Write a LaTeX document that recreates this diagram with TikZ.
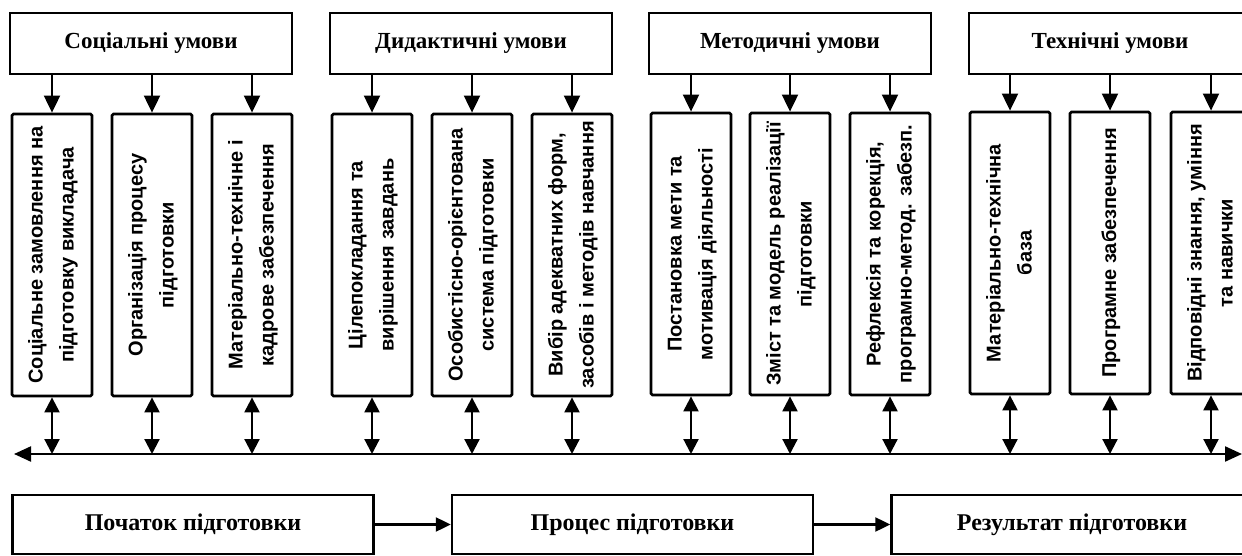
\documentclass[tikz,border=0pt]{standalone}
\usepackage{fontspec}
\usepackage{graphicx}
\setmainfont{Liberation Serif}
\setsansfont{Liberation Sans}
\usetikzlibrary{arrows.meta}
\newcommand\vtxt[2]{\rotatebox{90}{\begin{tabular}{@{}c@{}}#1\\#2\end{tabular}}}
\newcommand\vone[1]{\rotatebox{90}{\begin{tabular}{@{}c@{}}#1\end{tabular}}}
\begin{document}
\begin{tikzpicture}[x=1pt,y=-1pt,
  hdr/.style={draw, line width=2pt, minimum width=282pt, minimum height=61pt, inner sep=0pt,
    font=\fontsize{23}{27}\selectfont\bfseries},
  vbox/.style={draw, line width=2.8pt, rounded corners=1.5pt, minimum width=80pt, minimum height=282pt,
    inner sep=0pt, font=\fontsize{20}{31}\selectfont\sffamily\bfseries},
  bbox/.style={draw, line width=2.4pt, minimum width=361pt, minimum height=59pt, inner sep=0pt,
    font=\fontsize{24}{28}\selectfont\bfseries},
  arr/.style={-{Triangle[length=17pt,width=16pt]}, line width=2pt},
  harr/.style={-{Triangle[length=15pt,width=14pt]}, line width=2.2pt},
  bidir/.style={{Triangle[length=15pt,width=15pt]}-{Triangle[length=15pt,width=15pt]}, line width=2.2pt},
]
\useasboundingbox[fill=white] (0,0) rectangle (1242,556);

% headers
\node[hdr] (h1) at (151,43.5) {Соціальні умови};
\node[hdr] (h2) at (471,43.5) {Дидактичні умови};
\node[hdr] (h3) at (790,43.5) {Методичні умови};
\node[hdr] (h4) at (1110,43.5) {Технічні умови};

% vertical boxes
\node[vbox] (g1a) at (52,255) {\vtxt{Соціальне замовлення на}{підготовку викладача}};
\node[vbox] (g1b) at (152,255) {\vtxt{Організація процесу}{підготовки}};
\node[vbox] (g1c) at (252,255) {\vtxt{Матеріально-технічне і}{кадрове забезпечення}};

\node[vbox] (g2a) at (372,255) {\vtxt{Цілепокладання та}{вирішення завдань}};
\node[vbox] (g2b) at (472,255) {\vtxt{Особистісно-орієнтована}{система підготовки}};
\node[vbox] (g2c) at (572,255) {\vtxt{Вибір адекватних форм,}{засобів і методів навчання}};

\node[vbox] (g3a) at (691,254) {\vtxt{Постановка мети та}{мотивація діяльності}};
\node[vbox] (g3b) at (790,254) {\vtxt{Зміст та модель реалізації}{підготовки}};
\node[vbox] (g3c) at (890,254) {\vtxt{Рефлексія та корекція,}{програмно-метод. забезп.}};

\node[vbox] (g4a) at (1010,253) {\vtxt{Матеріально-технічна}{база}};
\node[vbox] (g4b) at (1110,253) {\vone{Програмне забезпечення}};
\node[vbox] (g4c) at (1211,253) {\vtxt{Відповідні знання, уміння}{та навички}};

% header arrows
\foreach \h/\b in {h1/g1a,h1/g1b,h1/g1c,h2/g2a,h2/g2b,h2/g2c,h3/g3a,h3/g3b,h3/g3c,h4/g4a,h4/g4b,h4/g4c}
  \draw[arr] (\h.south -| \b.north) -- (\b.north);

% horizontal axis
\coordinate (L) at (14,454);
\coordinate (R) at (1242,454);
\draw[{Triangle[length=17pt,width=15pt]}-{Triangle[length=17pt,width=15pt]}, line width=2.2pt] (L) -- (R);

\foreach \b in {g1a,g1b,g1c,g2a,g2b,g2c,g3a,g3b,g3c,g4a,g4b,g4c}
  \draw[bidir] (\b.south) -- (\b.south |- L);

% bottom boxes
\node[bbox] (b1) at (193,524.5) {Початок підготовки};
\node[bbox] (b2) at (632.5,524.5) {Процес підготовки};
\node[bbox] (b3) at (1072,524.5) {Результат підготовки};
\draw[harr] (b1.east) -- (b2.west);
\draw[harr] (b2.east) -- (b3.west);
\end{tikzpicture}
\end{document}
